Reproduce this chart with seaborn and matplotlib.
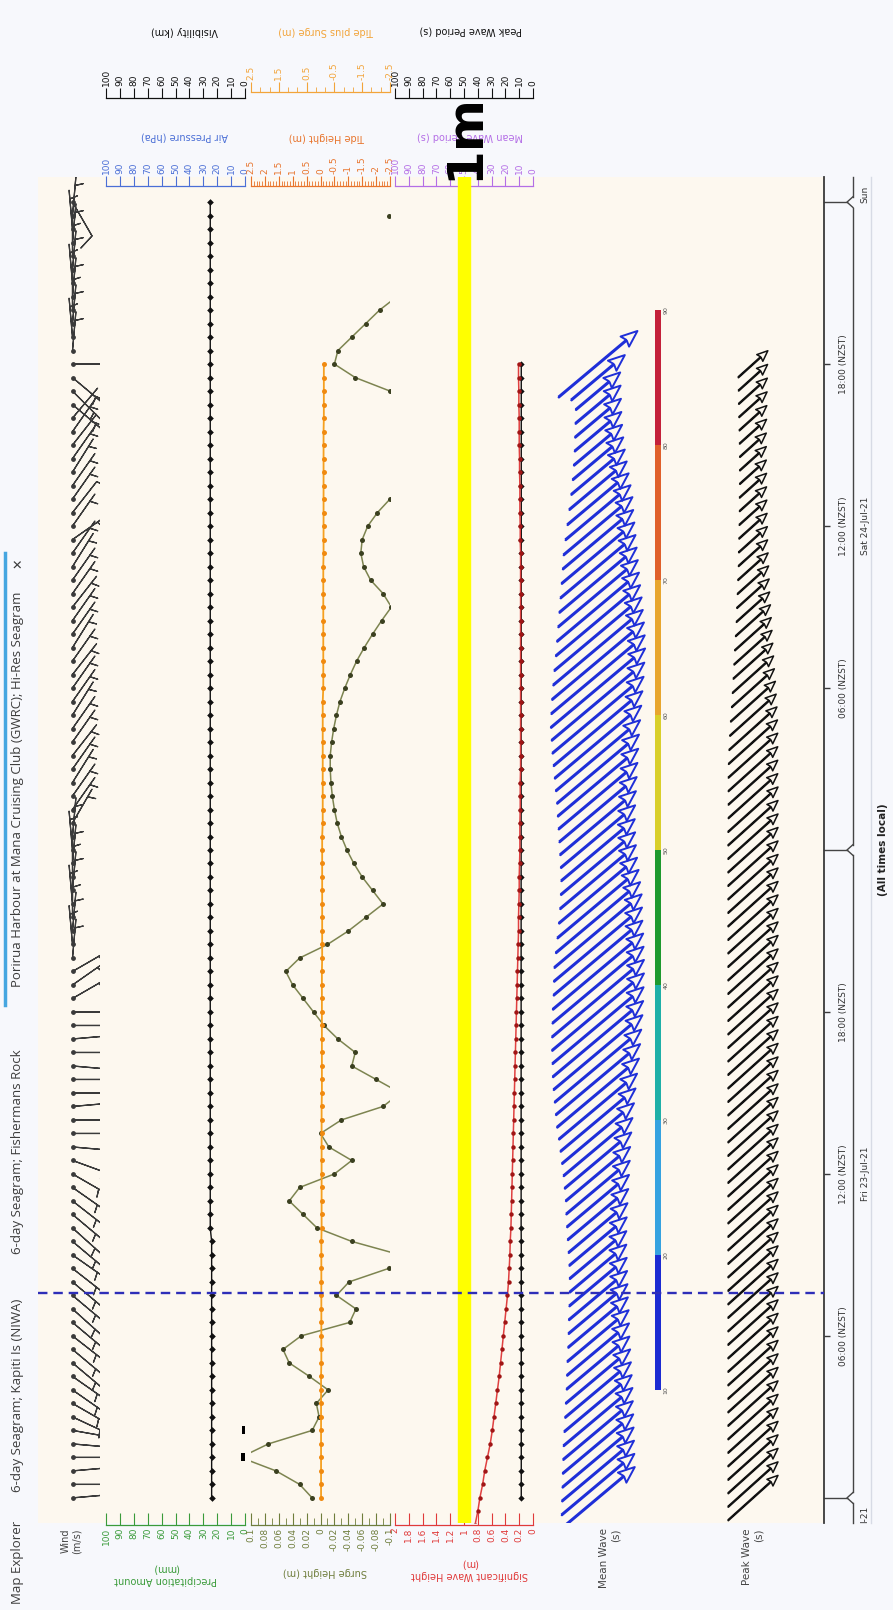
import numpy as np
import pandas as pd
import seaborn as sns
import matplotlib
matplotlib.use('Agg')
from matplotlib import pyplot as plt
from matplotlib.colors import ListedColormap, BoundaryNorm
from matplotlib.cm import ScalarMappable
from matplotlib.lines import Line2D
from matplotlib.transforms import blended_transform_factory

plt.rcParams['font.family'] = ['DejaVu Sans']

W, H = 893, 1610
T0, T1 = -0.93, 48.93          # hours after Fri 23-Jul-21 00:00 at plot bottom / top

# ---------------- data (half hourly) ----------------
hours = np.arange(0, 48.5, 0.5)        # Fri 00:00 .. Sun 00:00
hours42 = np.arange(0, 42.5, 0.5)      # wave model runs to Sat 18:00
swh_hours = np.arange(-1, 42.5, 0.5)
now_hour = 7.6

visibility_km = [24, 24, 24, 24, 24, 24, 24, 24, 24, 24,
                 24, 24, 24, 24, 24, 24, 24, 24, 24, 24,
                 25, 25, 25, 25, 25, 25, 25, 25, 25, 25,
                 25, 25, 25, 25, 25, 25, 25, 25, 25, 25,
                 25, 25, 25, 25, 25, 25, 25, 25, 25, 25,
                 25, 25, 25, 25, 25, 25, 25, 25, 25, 25,
                 25, 25, 25, 25, 25, 25, 25, 25, 25, 25,
                 25, 25, 25, 25, 25, 25, 25, 25, 25, 25,
                 25, 25, 25, 25, 25, 25, 25, 25, 25, 25,
                 25, 25, 25, 25, 25, 25, 25]

precip_hours = [1.5, 2.5]
precip_mm = [3.0, 2.0]

surge_m = [0.012, 0.030, 0.064, 0.115, 0.075, 0.012, 0.002, 0.006, -0.011, 0.016,
           0.045, 0.054, 0.028, -0.042, -0.051, -0.023, -0.041, -0.098, -0.115,
           -0.045, 0.005, 0.025, 0.045, 0.030, -0.020, -0.045, -0.012, 0.000, -0.030,
           -0.090, -0.115, -0.080, -0.045, -0.050, -0.025, -0.005, 0.010, 0.025, 0.040,
           0.050, 0.030, -0.010, -0.040, -0.065, -0.090,
           -0.075, -0.060, -0.048, -0.038, -0.030, -0.024, -0.020, -0.017, -0.015, -0.014,
           -0.014, -0.016, -0.019, -0.023, -0.028, -0.035, -0.043, -0.052, -0.063, -0.075,
           -0.088, -0.102,
           -0.090, -0.072, -0.062, -0.058, -0.060, -0.068, -0.082, -0.100,
           -0.130, -0.160, -0.180, -0.180, -0.160, -0.130, -0.105,
           -0.100, -0.050, -0.020, -0.025, -0.045, -0.065, -0.085, -0.110,
           -0.140, -0.160, -0.160, -0.140, -0.120, -0.099, -0.120]

tide_plus_surge_m = [
    -0.02, -0.02, -0.02, -0.02, -0.02, -0.02, -0.02, -0.02, -0.02, -0.02,
    -0.03, -0.03, -0.03, -0.03, -0.03, -0.03, -0.03, -0.03, -0.03, -0.03,
    -0.04, -0.04, -0.04, -0.04, -0.04, -0.04, -0.04, -0.04, -0.04, -0.04,
    -0.05, -0.05, -0.05, -0.05, -0.05, -0.05, -0.05, -0.05, -0.05, -0.05,
    -0.06, -0.06, -0.06, -0.06, -0.06, -0.06, -0.06, -0.06, -0.06, -0.06,
    -0.08, -0.08, -0.08, -0.08, -0.08, -0.08, -0.08, -0.08, -0.08, -0.08,
    -0.10, -0.10, -0.10, -0.10, -0.10, -0.10, -0.10, -0.10, -0.10, -0.10,
    -0.11, -0.11, -0.11, -0.11, -0.11, -0.11, -0.11, -0.11, -0.11, -0.11,
    -0.12, -0.12, -0.12, -0.12, -0.12]

swh_m = [0.84, 0.80, 0.77, 0.73, 0.70, 0.66, 0.62, 0.59, 0.565, 0.54,
         0.515, 0.49, 0.47, 0.45, 0.43, 0.41, 0.39, 0.37, 0.355, 0.345,
         0.335, 0.33, 0.32, 0.315, 0.31, 0.305, 0.30, 0.295, 0.29, 0.285,
         0.28, 0.275, 0.27, 0.265, 0.26, 0.255, 0.25, 0.245, 0.24, 0.235,
         0.23, 0.225, 0.22, 0.215, 0.21, 0.21, 0.205, 0.20, 0.20, 0.195,
         0.19, 0.19, 0.19, 0.185, 0.185, 0.185, 0.18, 0.18, 0.18, 0.18,
         0.18, 0.18, 0.18, 0.18, 0.18, 0.18, 0.18, 0.18, 0.18, 0.18,
         0.18, 0.18, 0.18, 0.185, 0.185, 0.19, 0.19, 0.19, 0.195, 0.195,
         0.20, 0.20, 0.20, 0.205, 0.205, 0.21, 0.21]

peak_period_s = [8.5, 8.5, 8.5, 8.5, 8.5, 8.5, 8.5, 8.5, 8.5, 8.5,
                 8.5, 8.5, 8.5, 8.5, 8.5, 8.5, 8.5, 8.5, 8.5, 8.5,
                 8.6, 8.6, 8.6, 8.6, 8.6, 8.6, 8.6, 8.6, 8.6, 8.6,
                 8.6, 8.6, 8.6, 8.6, 8.6, 8.6, 8.6, 8.6, 8.6, 8.6,
                 8.6, 8.6, 8.6, 8.6, 8.6, 8.6, 8.6, 8.6, 8.6, 8.6,
                 8.6, 8.6, 8.6, 8.6, 8.6, 8.6, 8.6, 8.6, 8.6, 8.6,
                 8.5, 8.5, 8.5, 8.5, 8.5, 8.5, 8.5, 8.5, 8.5, 8.5,
                 8.5, 8.5, 8.5, 8.5, 8.5, 8.5, 8.5, 8.5, 8.5, 8.5,
                 8.5, 8.5, 8.5, 8.5, 8.5]

mean_wave_period_s = [9.6, 9.5, 9.4, 9.3, 9.2, 9.1, 9.0, 8.8, 8.6, 8.4,
                      8.2, 8.1, 8.0, 7.8, 7.7, 7.6, 7.5, 7.4, 7.4, 7.5,
                      7.7, 7.9, 8.1, 8.3, 8.4, 8.7, 9.0, 9.4, 9.8, 10.2,
                      10.7, 11.0, 11.3, 11.6, 11.8, 11.9, 12.0, 12.0, 11.9, 11.8,
                      11.6, 11.5, 11.4, 11.0, 10.6, 10.2, 9.9, 9.7, 9.6, 9.7,
                      9.9, 10.1, 10.3, 10.5, 10.7, 11.0, 11.3, 11.6, 11.9, 12.1,
                      12.3, 12.2, 12.0, 11.7, 11.4, 11.0, 10.7, 10.4, 10.1, 9.8,
                      9.5, 9.2, 9.0, 8.5, 8.0, 7.5, 7.0, 6.6, 6.3, 6.1,
                      6.0, 5.9, 5.8, 7.0, 10.3]
mean_wave_dir = 40

peak_wave_period_s = [9.6, 9.6, 9.6, 9.6, 9.6, 9.6, 9.6, 9.6, 9.6, 9.6,
                      9.6, 9.6, 9.6, 9.6, 9.6, 9.6, 9.6, 9.6, 9.6, 9.6,
                      9.6, 9.6, 9.6, 9.6, 9.6, 9.6, 9.6, 9.6, 9.6, 9.6,
                      9.6, 9.6, 9.6, 9.6, 9.6, 9.6, 9.6, 9.6, 9.6, 9.6,
                      9.6, 9.6, 9.6, 9.6, 9.6, 9.6, 9.6, 9.6, 9.6, 9.6,
                      9.6, 9.6, 9.5, 9.5, 9.5, 9.5,
                      9.4, 9.2, 8.9, 8.6, 8.2, 7.9, 7.6, 7.3, 7.0, 6.7,
                      6.4, 6.2, 6.0, 5.8, 5.6, 5.5, 5.4, 5.3, 5.2, 5.2,
                      5.1, 5.1, 5.1, 5.2, 5.3, 5.4, 5.5, 5.6, 5.7]
peak_wave_dir = 42

wind_speed_ms = [
    6, 6, 6, 6, 6, 6, 6, 6, 6, 6, 6, 6, 6, 6, 6, 6, 6, 6, 6, 6,
    6, 6, 6, 6, 6, 6, 6, 6, 6, 6, 6, 6, 6, 6, 6, 6, 6, 6, 6, 6,
    6, 6, 6, 6, 6, 6, 6, 6, 6, 6, 6, 6, 6, 6, 6, 6, 6, 6, 6, 6,
    6, 6, 6, 6, 6, 6, 6, 6, 6, 6, 6, 6, 6, 11, 6, 6, 6, 6, 6, 6,
    6, 6, 6, 6, 6, 6, 6, 6, 6, 6, 6, 6, 6, 6, 6, 6, 11]
wind_staff_deg = [5, 0, 5, 0, -5, -10,
                  -25, -30, -35, -35, -40, -40, -38, -40, -42, -40,
                  -40, -38, -35, -40, -42, -40, -38, -35, -30, -20,
                  -5, 0, 0, 5, 0, 0, -5, 0, 5, 0, 0,
                  30, 35, 30,
                  85, 95, 85, 90, 95, 85, 90, 85, 95, 85, 60,
                  55, 55, 58, 55, 52, 55, 55, 58, 55, 55,
                  52, 55, 58, 55, 55, 52, 55, 55, 58, 55,
                  35, 55, 52, 55, 55, 58, 55, 52, 55, 50,
                  -40, -45, -40, 0,
                  85, 95, 85, 90, 85, 95, 85, 90, 85, 95, 85,
                  -60]

time_ticks = [6, 12, 18, 30, 36, 42]
time_labels = ['06:00 (NZST)', '12:00 (NZST)', '18:00 (NZST)',
               '06:00 (NZST)', '12:00 (NZST)', '18:00 (NZST)']
midnights = [0, 24, 48]

cb_bounds = [10, 20, 30, 40, 50, 60, 70, 80, 90]
cb_colors = ['#1c2bd2', '#35a2e0', '#1fb0a8', '#1e9a2e', '#d9cf2a', '#e8a62e', '#e0602a', '#c4213a']

pct_ticks = [100, 90, 80, 70, 60, 50, 40, 30, 20, 10, 0]
pct_labels = ['100', '90', '80', '70', '60', '50', '40', '30', '20', '10', '0']
surge_ticks = [0.1, 0.08, 0.06, 0.04, 0.02, 0, -0.02, -0.04, -0.06, -0.08, -0.1]
surge_labels = ['0.1', '0.08', '0.06', '0.04', '0.02', '0', '-0.02', '-0.04', '-0.06', '-0.08', '-0.1']
swh_ticks = [2, 1.8, 1.6, 1.4, 1.2, 1, 0.8, 0.6, 0.4, 0.2, 0]
swh_labels = ['2', '1.8', '1.6', '1.4', '1.2', '1', '0.8', '0.6', '0.4', '0.2', '0']
tide_ticks = [2.5, 2, 1.5, 1, 0.5, 0, -0.5, -1, -1.5, -2, -2.5]
tide_labels = ['2.5', '2', '1.5', '1', '0.5', '0', '-0.5', '-1', '-1.5', '-2', '-2.5']
tps_ticks = [2.5, 1.5, 0.5, -0.5, -1.5, -2.5]
tps_labels = ['2.5', '1.5', '0.5', '-0.5', '-1.5', '-2.5']

vis = pd.DataFrame({'hour': hours, 'visibility': visibility_km, 'surge': surge_m,
                    'wind': wind_speed_ms, 'staff': wind_staff_deg})
wav = pd.DataFrame({'hour': hours42, 'tps': tide_plus_surge_m, 'period': peak_period_s,
                    'mean_t': mean_wave_period_s, 'peak_t': peak_wave_period_s})
swh = pd.DataFrame({'hour': swh_hours, 'swh': swh_m})

# ---------------- figure ----------------
fig = plt.figure(figsize=(W / 100, H / 100), dpi=100, facecolor='#f7f8fc')


def px_axes(x0, y0, x1, y1):
    return fig.add_axes([x0 / W, 1 - y1 / H, (x1 - x0) / W, (y1 - y0) / H])


def ftext(x, y, s, **kw):
    return fig.text(x / W, 1 - y / H, s, **kw)


def data_axes(x0, x1, lim):
    a = px_axes(x0, 177, x1, 1523)
    a.set_xlim(lim)
    a.set_ylim(T0, T1)
    a.axis('off')
    return a


def scale(x0, x1, y, lim, ticks, labels, color, minor=None, top=True, length=7):
    a = px_axes(x0, y - 1, x1, y)
    a.set_xlim(lim)
    a.set_ylim(0, 1)
    a.patch.set_alpha(0)
    for s in a.spines.values():
        s.set_visible(False)
    side = 'top' if top else 'bottom'
    a.spines[side].set_visible(True)
    a.spines[side].set_color(color)
    a.spines[side].set_linewidth(0.9)
    a.set_yticks([])
    if top:
        a.xaxis.tick_top()
    a.set_xticks(ticks)
    a.set_xticklabels(labels, rotation=90, fontsize=6.5, color=color)
    if minor is not None:
        a.set_xticks(minor, minor=True)
    d = 'out' if top else 'in'
    a.tick_params(axis='x', which='major', direction=d, length=length, width=0.8, color=color, pad=2)
    a.tick_params(axis='x', which='minor', direction=d, length=length * 0.55, width=0.6, color=color)
    return a


# plot background + time axis
bg = px_axes(38, 177, 824, 1523)
bg.set_facecolor('#fdf8ef')
bg.set_xlim(0, 1)
bg.set_ylim(T0, T1)
for s in ['left', 'top', 'bottom']:
    bg.spines[s].set_visible(False)
bg.spines['right'].set_color('#3a3a3a')
bg.spines['right'].set_linewidth(1.3)
bg.set_xticks([])
bg.yaxis.tick_right()
bg.set_yticks(time_ticks)
bg.set_yticklabels(time_labels, rotation=90, va='center', fontsize=6.5, color='#333333')
bg.tick_params(axis='y', length=4, width=1, color='#3a3a3a', pad=7)

tr = blended_transform_factory(bg.transAxes, bg.transData)


def bx(px):
    return (px - 38) / 786


kw = dict(transform=tr, clip_on=False, color='#444444', lw=1)
for m in midnights:
    bg.plot([bx(824), bx(847)], [m, m], **kw)
    bg.plot([bx(853), bx(847), bx(853)], [m - 0.2, m, m + 0.2], **kw)
edges = [T0] + midnights + [T1]
for a, b in zip(edges[:-1], edges[1:]):
    lo = a + 0.2 if a in midnights else a
    hi = b - 0.2 if b in midnights else b
    bg.plot([bx(853), bx(853)], [lo, hi], **kw)
bg.plot([bx(871), bx(871)], [T0, T1], transform=tr, clip_on=False, color='#d7dbe5', lw=1)
for h, s in [(12, 'Fri 23-Jul-21'), (36, 'Sat 24-Jul-21')]:
    bg.text(bx(865), h, s, transform=tr, rotation=90, ha='center', va='center', fontsize=6.5, color='#333333')
bg.text(bx(865), T0, 'l-21', transform=tr, rotation=90, ha='center', va='bottom', fontsize=6.5, color='#333333')
bg.text(bx(865), 47.95, 'Sun', transform=tr, rotation=90, ha='center', va='bottom', fontsize=6.5, color='#333333')
ftext(883, 850, '(All times local)', rotation=90, ha='center', va='center', fontsize=7.5,
      fontweight='bold', color='#222222')

# scales above the plot
scale(106, 245, 99, (100, 0), pct_ticks, pct_labels, '#111111')
scale(251, 390, 93, (2.5, -2.5), tps_ticks, tps_labels, '#f2a43a',
      minor=np.arange(-2.5, 2.51, 1 / 3))
scale(395, 533, 99, (100, 0), pct_ticks, pct_labels, '#111111')
scale(106, 245, 187, (100, 0), pct_ticks, pct_labels, '#4b6fd6')
scale(251, 390, 187, (2.5, -2.5), tide_ticks, tide_labels, '#e8742c',
      minor=np.arange(-2.5, 2.51, 0.1))
scale(395, 533, 187, (100, 0), pct_ticks, pct_labels, '#b46ee6')
# scales below the plot
scale(106, 245, 1525, (100, 0), pct_ticks, pct_labels, '#3a9b3a', top=False, length=9)
scale(251, 390, 1525, (0.1, -0.1), surge_ticks, surge_labels, '#6f7d3c',
      minor=np.arange(-0.1, 0.101, 0.01), top=False, length=9)
scale(395, 533, 1525, (2, 0), swh_ticks, swh_labels, '#e03a3a', top=False, length=9)

for x, y, s, c in [(184, 31, 'Visibility (km)', '#111111'), (326, 31, 'Tide plus Surge (m)', '#f2a43a'),
                   (471, 31, 'Peak Wave Period (s)', '#111111'), (184, 137, 'Air Pressure (hPa)', '#4b6fd6'),
                   (327, 137, 'Tide Height (m)', '#e8742c'), (470, 137, 'Mean Wave Period (s)', '#b46ee6'),
                   (166, 1574, 'Precipitation Amount\n(mm)', '#3a9b3a'),
                   (325, 1572, 'Surge Height (m)', '#6f7d3c'),
                   (470, 1569, 'Significant Wave Height\n(m)', '#e03a3a')]:
    ftext(x, y, s, rotation=180, ha='center', va='center', fontsize=7, color=c, multialignment='center')

ftext(71, 1541, 'Wind\n(m/s)', rotation=90, ha='center', va='center', fontsize=7, color='#444444',
      multialignment='center')
ftext(610, 1528, 'Mean Wave\n(s)', rotation=90, ha='center', va='top', fontsize=7.5, color='#444444',
      multialignment='right')
ftext(753, 1528, 'Peak Wave\n(s)', rotation=90, ha='center', va='top', fontsize=7.5, color='#444444',
      multialignment='right')

# column A: precipitation + visibility
axA = data_axes(106, 245, (100, 0))
axA.barh(precip_hours, precip_mm, height=0.3, color='black')
sns.lineplot(data=vis, x='visibility', y='hour', orient='y', estimator=None, ax=axA, color='#111111',
             lw=1, marker='D', markersize=3.4, markeredgewidth=0)

# column B: surge + tide plus surge
axB = data_axes(251, 390, (0.1, -0.1))
sns.lineplot(data=vis, x='surge', y='hour', orient='y', estimator=None, ax=axB, color='#7d8450',
             lw=1.1, marker='o', markersize=3.6, markeredgewidth=0, markerfacecolor='#3b4020')
axB2 = data_axes(251, 390, (2.5, -2.5))
sns.lineplot(data=wav, x='tps', y='hour', orient='y', estimator=None, ax=axB2, color='#f5a020',
             lw=1.3, marker='o', markersize=3.6, markeredgewidth=0, markerfacecolor='#f08a10')

# column C: significant wave height + peak period + 1 m marker
axC2 = data_axes(395, 533, (100, 0))
sns.lineplot(data=wav, x='period', y='hour', orient='y', estimator=None, ax=axC2, color='#111111',
             lw=1, marker='D', markersize=3.2, markeredgewidth=0)
axC = data_axes(395, 533, (2, 0))
axC.axvspan(0.92, 1.08, color='#ffff00', zorder=0)
sns.lineplot(data=swh, x='swh', y='hour', orient='y', estimator=None, ax=axC, color='#e04040',
             lw=1.1, marker='o', markersize=3.2, markeredgewidth=0, markerfacecolor='#a01515')
ftext(464, 137, '1m', rotation=90, ha='center', va='center', fontsize=36, fontweight='bold', color='black')

# wind barbs
axW = data_axes(45, 100, (-1, 1))
th = np.deg2rad(vis['staff'].to_numpy())
axW.barbs(np.zeros(len(vis)), vis['hour'], -vis['wind'] * np.cos(th), -vis['wind'] * np.sin(th),
          length=7.5, pivot='tip', color='#3a3a3a', linewidth=0.9,
          sizes=dict(emptybarb=0.0, spacing=0.15, height=0.4))
axW.scatter(np.zeros(len(vis)), vis['hour'], s=6, color='#3a3a3a', zorder=3)

# wave arrows
axM = data_axes(538, 658, (-1, 1))
a = np.deg2rad(mean_wave_dir)
axM.quiver(np.zeros(len(wav)), wav['hour'], wav['mean_t'] * np.cos(a), wav['mean_t'] * np.sin(a),
           angles='uv', scale_units='dots', scale=0.1, units='dots', width=1.1, headwidth=12,
           headlength=15, headaxislength=13, pivot='middle', facecolor='none',
           edgecolor='#1f2fd8', linewidth=1.4)
axP = data_axes(713, 793, (-1, 1))
a = np.deg2rad(peak_wave_dir)
axP.quiver(np.zeros(len(wav)), wav['hour'], wav['peak_t'] * np.cos(a), wav['peak_t'] * np.sin(a),
           angles='uv', scale_units='dots', scale=1 / 7, units='dots', width=0.9, headwidth=10,
           headlength=12, headaxislength=10.5, pivot='middle', facecolor='none',
           edgecolor='#111111', linewidth=1.1)

# colour bar
cax = px_axes(655, 310, 661, 1390)
cb = fig.colorbar(ScalarMappable(norm=BoundaryNorm(cb_bounds, len(cb_colors)), cmap=ListedColormap(cb_colors)),
                  cax=cax, ticks=cb_bounds)
cb.outline.set_visible(False)
cax.set_yticklabels([str(b) for b in cb_bounds], rotation=90, va='center', fontsize=4.5, color='#555555')
cax.tick_params(length=0, pad=2)

# "now" line
over = data_axes(38, 824, (0, 1))
over.axhline(now_hour, color='#2e2eb8', lw=1.7, ls=(0, (4, 2.5)))

# tab strip
tab_font = ['Open Sans', 'DejaVu Sans']
for y, s in [(1562, 'Map Explorer'), (1395, '6-day Seagram; Kapiti Is (NIWA)'),
             (1152, '6-day Seagram; Fishermans Rock'),
             (789, 'Porirua Harbour at Mana Cruising Club (GWRC); Hi-Res Seagram')]:
    ftext(18, y, s, rotation=90, ha='center', va='center', fontsize=9.5, color='#3c3c3c', family=tab_font)
ftext(18, 563, '✕', rotation=90, ha='center', va='center', fontsize=9, color='#3c3c3c', family=tab_font)
fig.add_artist(Line2D([5 / W, 5 / W], [1 - 553 / H, 1 - 1005 / H], color='#46a6e0', lw=2.5))

fig.savefig('out.png', dpi=100, facecolor=fig.get_facecolor())
